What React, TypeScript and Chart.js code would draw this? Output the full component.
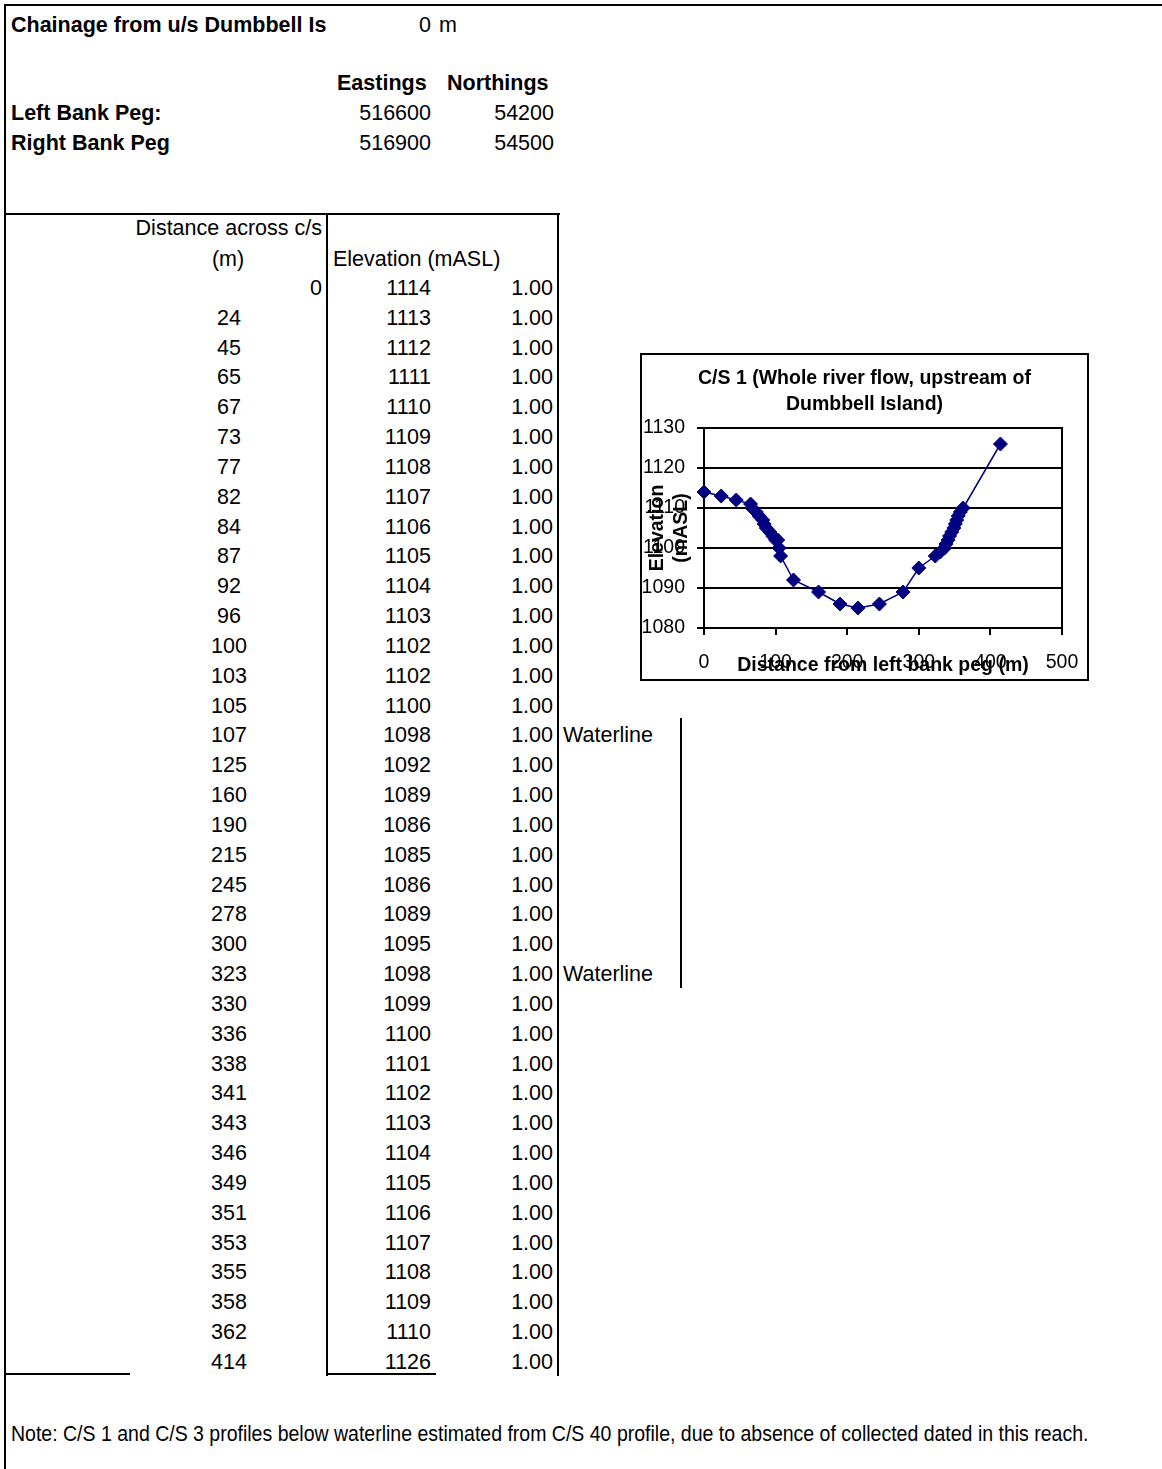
import React, { useEffect, useRef } from "react";
import { Chart, registerables } from "chart.js";

Chart.register(...registerables);

// Cross-section survey: distance across c/s (m) and bed elevation (mASL)
const distances = [
  0, 24, 45, 65, 67, 73, 77, 82, 84, 87, 92, 96, 100, 103, 105, 107, 125, 160, 190,
  215, 245, 278, 300, 323, 330, 336, 338, 341, 343, 346, 349, 351, 353, 355, 358, 362, 414,
];
const elevations = [
  1114, 1113, 1112, 1111, 1110, 1109, 1108, 1107, 1106, 1105, 1104, 1103, 1102, 1102,
  1100, 1098, 1092, 1089, 1086, 1085, 1086, 1089, 1095, 1098, 1099, 1100, 1101, 1102,
  1103, 1104, 1105, 1106, 1107, 1108, 1109, 1110, 1126,
];
const factors = [
  "1.00", "1.00", "1.00", "1.00", "1.00", "1.00", "1.00", "1.00", "1.00", "1.00",
  "1.00", "1.00", "1.00", "1.00", "1.00", "1.00", "1.00", "1.00", "1.00", "1.00",
  "1.00", "1.00", "1.00", "1.00", "1.00", "1.00", "1.00", "1.00", "1.00", "1.00",
  "1.00", "1.00", "1.00", "1.00", "1.00", "1.00", "1.00",
];
const waterlineRows = [15, 23];

const pegNames = ["Left Bank Peg:", "Right Bank Peg"];
const pegEastings = [516600, 516900];
const pegNorthings = [54200, 54500];

const chartTitle = ["C/S 1 (Whole river flow, upstream of", "Dumbbell Island)"];
const xAxisTitle = "Distance from left bank peg (m)";
const yAxisTitle = ["Elevation", "(mASL)"];
const xMin = 0;
const xMax = 500;
const xStep = 100;
const yMin = 1080;
const yMax = 1130;
const yStep = 10;

const noteText =
  "Note: C/S 1 and C/S 3 profiles below waterline estimated from C/S 40 profile, due to absence of collected dated in this reach.";

const FONT = "'Liberation Sans', Arial, Helvetica, sans-serif";
const SERIES = "#000080";

const ROW0 = 288;
const ROW_STEP = 29.83;

type TextProps = {
  x: number;
  y: number;
  align?: "left" | "right" | "center";
  bold?: boolean;
  children: React.ReactNode;
};

function Cell({ x, y, align = "left", bold = false, children }: TextProps) {
  const shift = align === "right" ? "translateX(-100%)" : align === "center" ? "translateX(-50%)" : "none";
  return (
    <div
      style={{
        position: "absolute",
        left: x,
        top: y - 12,
        lineHeight: "24px",
        fontSize: "21.5px",
        fontWeight: bold ? "bold" : "normal",
        whiteSpace: "nowrap",
        transform: shift,
      }}
    >
      {children}
    </div>
  );
}

function Rule({ x, y, w, h }: { x: number; y: number; w: number; h: number }) {
  return <div style={{ position: "absolute", left: x, top: y, width: w, height: h, background: "#000" }} />;
}

// Outline around the plotting area, drawn beneath the series
const plotFrame = {
  id: "plotFrame",
  beforeDatasetsDraw(chart: Chart) {
    const { ctx, chartArea } = chart;
    ctx.save();
    ctx.strokeStyle = "#000";
    ctx.lineWidth = 2;
    ctx.strokeRect(chartArea.left, chartArea.top, chartArea.right - chartArea.left, chartArea.bottom - chartArea.top);
    ctx.restore();
  },
};

const plain = (v: number | string) => String(v);

function ProfileChart() {
  const ref = useRef<HTMLCanvasElement | null>(null);

  useEffect(() => {
    if (!ref.current) return;
    Chart.defaults.font.family = FONT;
    Chart.defaults.color = "#000";
    const points = distances.map((d, i) => ({ x: d, y: elevations[i] }));
    const chart = new Chart(ref.current, {
      type: "scatter",
      data: {
        datasets: [
          {
            data: points,
            showLine: true,
            borderColor: SERIES,
            borderWidth: 1.5,
            backgroundColor: SERIES,
            pointStyle: "rectRot",
            pointRadius: 7,
            pointBorderWidth: 1,
            pointBorderColor: SERIES,
            pointBackgroundColor: SERIES,
            clip: false,
          },
        ],
      },
      options: {
        responsive: false,
        animation: false,
        events: [],
        layout: { padding: 0 },
        plugins: {
          legend: { display: false },
          tooltip: { enabled: false },
          title: {
            display: true,
            text: chartTitle,
            color: "#000",
            font: { size: 19.5, weight: "bold", lineHeight: 26 / 19.5 },
            padding: { top: 11, bottom: 10 },
          },
        },
        scales: {
          x: {
            type: "linear",
            min: xMin,
            max: xMax,
            ticks: {
              stepSize: xStep,
              color: "#000",
              font: { size: 19.5 },
              padding: 16,
              maxRotation: 0,
              autoSkip: false,
              callback: plain,
            },
            grid: { drawOnChartArea: false, color: "#000", lineWidth: 2, tickLength: 7 },
            border: { display: true, color: "#000", width: 2 },
            title: {
              display: true,
              text: xAxisTitle,
              color: "#000",
              font: { size: 19.5, weight: "bold" },
              padding: { top: 0, bottom: 2 },
            },
            afterFit(scale: any) {
              scale.height = 51;
              scale.paddingLeft = 0;
              scale.paddingRight = 25;
            },
          },
          y: {
            type: "linear",
            min: yMin,
            max: yMax,
            ticks: { stepSize: yStep, color: "#000", font: { size: 19.5 }, padding: 12, callback: plain },
            grid: { color: "#000", lineWidth: 2, tickLength: 7 },
            border: { display: true, color: "#000", width: 2 },
            title: {
              display: true,
              text: yAxisTitle,
              color: "#000",
              font: { size: 19.5, weight: "bold", lineHeight: 24 / 19.5 },
              padding: { top: 4, bottom: 0 },
            },
            afterFit(scale: any) {
              scale.width = 62;
              scale.paddingTop = 0;
              scale.paddingBottom = 0;
            },
          },
        },
      },
      plugins: [plotFrame],
    });
    return () => chart.destroy();
  }, []);

  return (
    <div
      style={{
        position: "absolute",
        left: 640,
        top: 353,
        width: 449,
        height: 328,
        border: "2px solid #000",
        boxSizing: "border-box",
        background: "#fff",
      }}
    >
      <canvas ref={ref} width={445} height={324} style={{ display: "block", width: 445, height: 324 }} />
    </div>
  );
}

export default function App() {
  return (
    <div
      style={{
        position: "absolute",
        left: 0,
        top: 0,
        width: 1162,
        height: 1469,
        overflow: "hidden",
        background: "#fff",
        color: "#000",
        fontFamily: FONT,
      }}
    >
      {/* sheet borders */}
      <Rule x={4} y={4} w={1158} h={2} />
      <Rule x={4} y={4} w={2} h={1465} />

      {/* header block */}
      <Cell x={11} y={25} bold>Chainage from u/s Dumbbell Is</Cell>
      <Cell x={431} y={25} align="right">0</Cell>
      <Cell x={439} y={25}>m</Cell>

      <Cell x={337} y={83} bold>Eastings</Cell>
      <Cell x={447} y={83} bold>Northings</Cell>
      {pegNames.map((name, i) => (
        <React.Fragment key={name}>
          <Cell x={11} y={113 + i * 30} bold>{name}</Cell>
          <Cell x={431} y={113 + i * 30} align="right">{pegEastings[i]}</Cell>
          <Cell x={554} y={113 + i * 30} align="right">{pegNorthings[i]}</Cell>
        </React.Fragment>
      ))}

      {/* survey table frame */}
      <Rule x={4} y={213} w={556} h={2} />
      <Rule x={326} y={213} w={2} h={1163} />
      <Rule x={557} y={213} w={2} h={1163} />
      <Rule x={4} y={1373} w={126} h={2} />
      <Rule x={326} y={1373} w={110} h={2} />

      <Cell x={322} y={228} align="right">Distance across c/s</Cell>
      <Cell x={228} y={259} align="center">(m)</Cell>
      <Cell x={333} y={259}>Elevation (mASL)</Cell>

      {distances.map((d, i) => {
        const y = ROW0 + i * ROW_STEP;
        return (
          <React.Fragment key={i}>
            {i === 0 ? (
              <Cell x={322} y={y} align="right">{d}</Cell>
            ) : (
              <Cell x={229} y={y} align="center">{d}</Cell>
            )}
            <Cell x={431} y={y} align="right">{elevations[i]}</Cell>
            <Cell x={553} y={y} align="right">{factors[i]}</Cell>
          </React.Fragment>
        );
      })}

      {waterlineRows.map((r) => (
        <Cell key={r} x={563} y={ROW0 + r * ROW_STEP}>Waterline</Cell>
      ))}
      <Rule x={680} y={718} w={2} h={270} />

      <ProfileChart />

      <div
        style={{
          position: "absolute",
          left: 11,
          top: 1434 - 12,
          lineHeight: "24px",
          fontSize: "21.5px",
          whiteSpace: "nowrap",
          transform: "scaleX(0.907)",
          transformOrigin: "left center",
        }}
      >
        {noteText}
      </div>
    </div>
  );
}
